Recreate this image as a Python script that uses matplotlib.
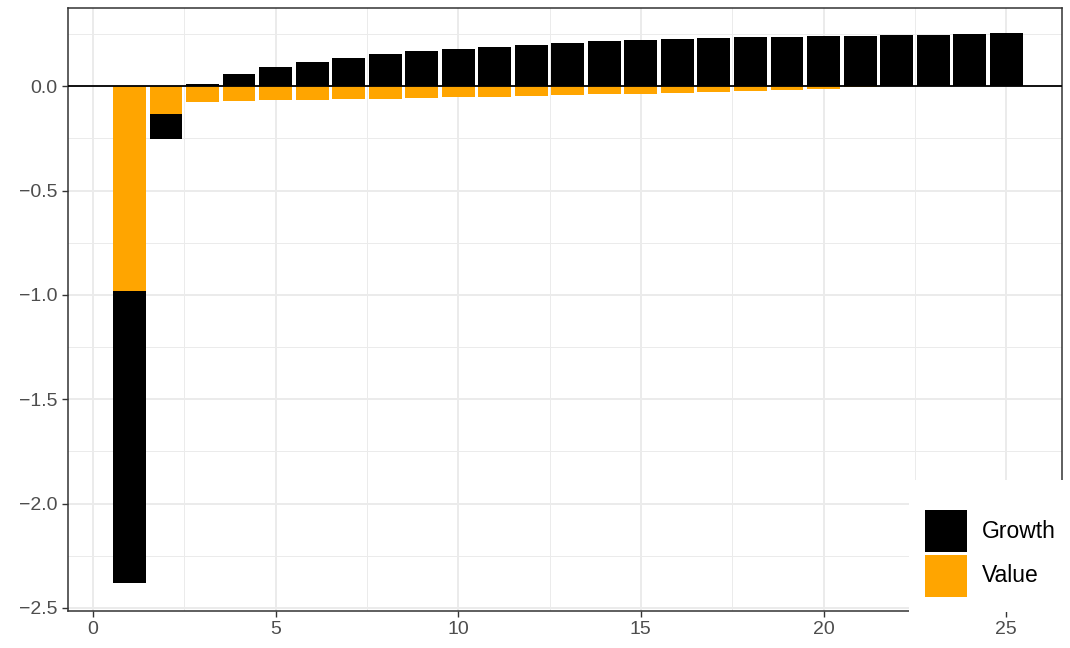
import matplotlib
matplotlib.use('Agg')
import matplotlib.pyplot as plt
import numpy as np
from matplotlib.patches import Rectangle
from matplotlib.ticker import MultipleLocator

plt.rcParams['font.family'] = ['Liberation Sans', 'DejaVu Sans']

# portfolio index 1..25
periods = list(range(1, 26))
growth = [-1.40, -0.118, 0.010, 0.057, 0.091, 0.115, 0.134, 0.153, 0.167, 0.177,
          0.187, 0.196, 0.206, 0.215, 0.220, 0.225, 0.230, 0.234, 0.234, 0.239,
          0.239, 0.244, 0.244, 0.249, 0.254]
value = [-0.981, -0.134, -0.075, -0.070, -0.065, -0.065, -0.061, -0.061, -0.056, -0.051,
         -0.051, -0.046, -0.043, -0.038, -0.038, -0.033, -0.029, -0.024, -0.019, -0.014,
         -0.005, 0.0, 0.0, 0.0, 0.0]
series_names = ['Growth', 'Value']
colors = {'Growth': 'black', 'Value': '#FFA500'}

x = np.array(periods)
g = np.array(growth)
v = np.array(value)

# ggplot style stacking: negatives stack downward, value sits next to zero
v_bottom = np.zeros_like(v)
g_bottom = np.where((g < 0) & (v < 0), v, 0.0)

W, H = 1070, 648
fig = plt.figure(figsize=(W / 100, H / 100), dpi=100)
ax = fig.add_axes([0.0636, 0.057, 0.929, 0.9307])

ax.bar(x, v, width=0.9, bottom=v_bottom, color=colors['Value'], zorder=3)
ax.bar(x, g, width=0.9, bottom=g_bottom, color=colors['Growth'], zorder=3)
ax.axhline(0, color='black', lw=1.3, zorder=4)

ax.set_xlim(-0.68, 26.53)
ax.set_ylim(-2.515, 0.375)
ax.xaxis.set_major_locator(MultipleLocator(5))
ax.xaxis.set_minor_locator(MultipleLocator(2.5))
ax.yaxis.set_major_locator(MultipleLocator(0.5))
ax.yaxis.set_minor_locator(MultipleLocator(0.25))
ax.grid(which='major', color='#EBEBEB', lw=1.4, zorder=0)
ax.grid(which='minor', color='#EBEBEB', lw=0.7, zorder=0)
ax.set_axisbelow(True)

ax.yaxis.set_major_formatter(matplotlib.ticker.FuncFormatter(
    lambda val, pos: ('%.1f' % val).replace('-', '\u2212')))
ax.tick_params(which='major', length=4, width=1, color='#333333',
               labelsize=14, labelcolor='#4D4D4D')
ax.tick_params(which='minor', length=0)
for s in ax.spines.values():
    s.set_color('#333333')
    s.set_linewidth(1.1)


def px(x0, y0, w, h):
    # pixel box (top-left origin) -> figure fraction
    return (x0 / W, 1 - (y0 + h) / H), w / W, h / H


# legend sits on a white box over the bottom right corner
xy, w, h = px(909, 480, 161, 132)
fig.patches.append(Rectangle(xy, w, h, transform=fig.transFigure,
                             facecolor='white', edgecolor='none', zorder=5))
for i, name in enumerate(series_names):
    xy, w, h = px(925, 510 + 45 * i, 42, 42)
    fig.patches.append(Rectangle(xy, w, h, transform=fig.transFigure,
                                 facecolor=colors[name], edgecolor='none', zorder=6))
    fig.text(982 / W, 1 - (531 + 45 * i) / H, name, fontsize=16.5,
             va='center', ha='left', color='black', zorder=7)

fig.savefig('out.png', dpi=100)
